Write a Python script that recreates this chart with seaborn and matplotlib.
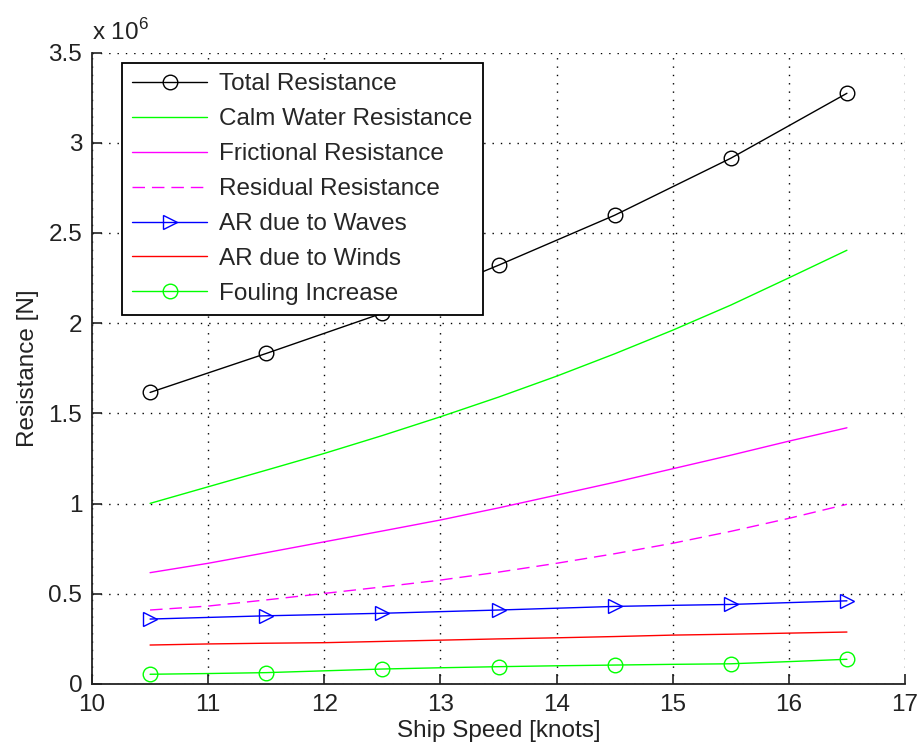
import matplotlib
matplotlib.use("Agg")
import matplotlib.pyplot as plt
import seaborn as sns
import pandas as pd
from matplotlib.ticker import FormatStrFormatter

# ---- data (resistance in units of 1e6 N) ----
speed_full = [10.5, 11.0, 11.5, 12.0, 12.5, 13.0, 13.5, 14.0, 14.5, 15.0, 15.5, 16.0, 16.5]
speed_marks = [10.5, 11.5, 12.5, 13.5, 14.5, 15.5, 16.5]

total_res = [1.616, 1.832, 2.055, 2.321, 2.598, 2.914, 3.274]
calm_water = [1.001, 1.093, 1.185, 1.278, 1.377, 1.481, 1.590, 1.706, 1.830, 1.961, 2.100, 2.251, 2.404]
frictional = [0.617, 0.669, 0.728, 0.788, 0.848, 0.909, 0.976, 1.047, 1.118, 1.193, 1.268, 1.346, 1.420]
residual = [0.410, 0.432, 0.466, 0.502, 0.538, 0.576, 0.620, 0.669, 0.722, 0.780, 0.846, 0.918, 0.996]
ar_waves = [0.360, 0.369, 0.378, 0.385, 0.392, 0.401, 0.410, 0.420, 0.430, 0.436, 0.441, 0.451, 0.461]
ar_winds = [0.216, 0.222, 0.226, 0.229, 0.236, 0.243, 0.250, 0.256, 0.263, 0.271, 0.276, 0.282, 0.288]
fouling = [0.054, 0.058, 0.063, 0.073, 0.083, 0.090, 0.096, 0.101, 0.105, 0.109, 0.112, 0.124, 0.137]

labels = ["Total Resistance", "Calm Water Resistance", "Frictional Resistance",
          "Residual Resistance", "AR due to Waves", "AR due to Winds", "Fouling Increase"]
x_ticks = [10, 11, 12, 13, 14, 15, 16, 17]
y_ticks = [0, 0.5, 1, 1.5, 2, 2.5, 3, 3.5]

sns.set_style("ticks")
plt.rcParams["font.family"] = ["Liberation Sans", "DejaVu Sans"]
plt.rcParams["mathtext.fontset"] = "custom"
plt.rcParams["mathtext.rm"] = "Liberation Sans"
FS = 17.5

fig = plt.figure(figsize=(9.18, 7.51), dpi=100)
ax = fig.add_axes([92 / 918, 67 / 751, 813 / 918, 631.5 / 751])

common = dict(ax=ax, estimator=None, sort=False, linewidth=1.0)
mk = dict(markersize=10.5, markerfacecolor="none", markeredgewidth=1.0)

sns.lineplot(x=speed_marks, y=total_res, color="black", marker="o",
             markeredgecolor="black", label=labels[0], **mk, **common)
sns.lineplot(x=speed_full, y=calm_water, color="#00ff00", label=labels[1], **common)
sns.lineplot(x=speed_full, y=frictional, color="#ff00ff", label=labels[2], **common)
sns.lineplot(x=speed_full, y=residual, color="#ff00ff", dashes=False, label=labels[3],
             linestyle=(0, (9, 5)), **common)
sns.lineplot(x=speed_full, y=ar_waves, color="#0000ff", marker=">", markevery=2,
             markeredgecolor="#0000ff", label=labels[4], **mk, **common)
sns.lineplot(x=speed_full, y=ar_winds, color="#ff0000", label=labels[5], **common)
sns.lineplot(x=speed_full, y=fouling, color="#00ff00", marker="o", markevery=2,
             markeredgecolor="#00ff00", label=labels[6], **mk, **common)

ax.set_xlim(10, 17)
ax.set_ylim(0, 3.5)
ax.set_xticks(x_ticks)
ax.set_yticks(y_ticks)
ax.yaxis.set_major_formatter(FormatStrFormatter("%g"))
ax.grid(True, color="black", linestyle=(0, (1, 5)), linewidth=1.0)
for s in ["top", "right"]:
    ax.spines[s].set_visible(False)
for s in ["left", "bottom"]:
    ax.spines[s].set_linewidth(1.3)
    ax.spines[s].set_color("#222222")
ax.tick_params(direction="in", length=7, width=1.2, labelsize=FS, pad=7, colors="#222222")
ax.set_xlabel("Ship Speed [knots]", fontsize=FS, color="#222222", labelpad=3)
ax.set_ylabel("Resistance [N]", fontsize=FS, color="#222222", labelpad=7)
ax.text(0.0, 1.012, r"x 10$^{6}$", transform=ax.transAxes, ha="left", va="bottom",
        fontsize=FS, color="#222222")

leg = ax.legend(loc="upper left", bbox_to_anchor=(0.0365, 0.983), borderaxespad=0,
                fontsize=FS, frameon=True, fancybox=False, edgecolor="black",
                handlelength=3.1, labelspacing=0.53, borderpad=0.42, handletextpad=0.5)
leg.get_frame().set_linewidth(1.3)
leg.get_frame().set_alpha(1)

fig.savefig("out.png", dpi=100, facecolor="white")
